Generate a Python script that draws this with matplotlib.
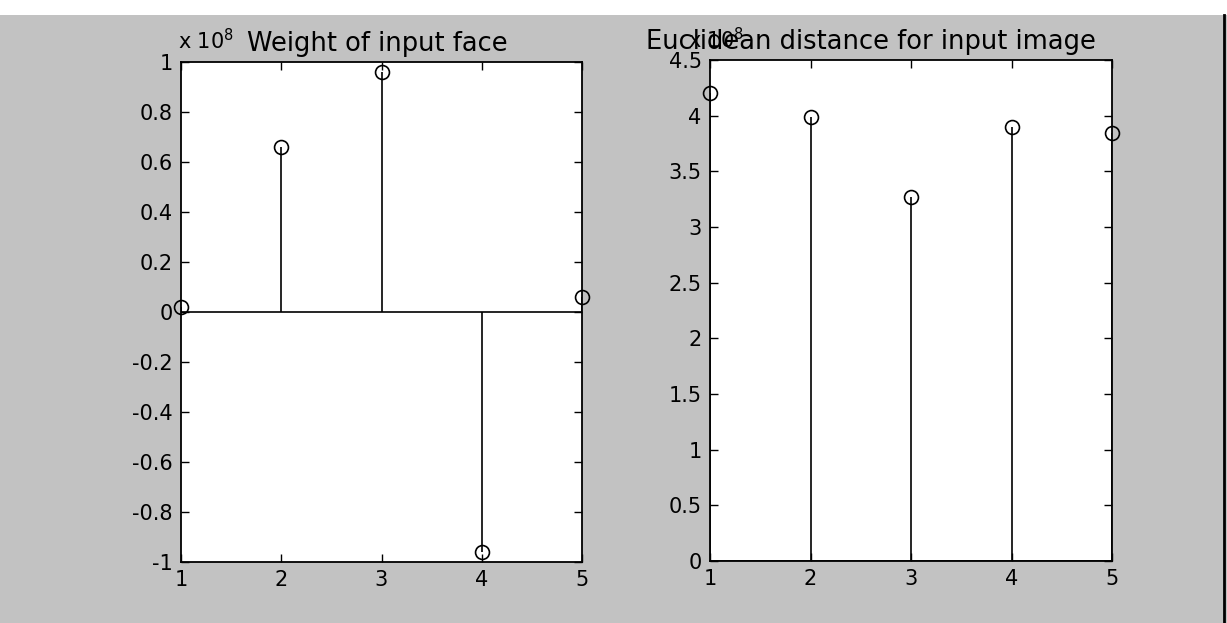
import matplotlib
matplotlib.use("Agg")
import matplotlib.pyplot as plt
from matplotlib.lines import Line2D
from matplotlib.patches import Rectangle

# values (both panels scaled by 10^8)
face_idx = [1, 2, 3, 4, 5]
face_weight = [0.02, 0.66, 0.96, -0.96, 0.06]
dist_idx = [1, 2, 3, 4, 5]
dist_value = [4.2, 3.99, 3.27, 3.9, 3.84]

left_title = "Weight of input face"
right_title = "Euclidean distance for input image"
left_yticks = [-1, -0.8, -0.6, -0.4, -0.2, 0, 0.2, 0.4, 0.6, 0.8, 1]
left_ylabels = ["-1", "-0.8", "-0.6", "-0.4", "-0.2", "0", "0.2", "0.4", "0.6", "0.8", "1"]
right_yticks = [0, 0.5, 1, 1.5, 2, 2.5, 3, 3.5, 4, 4.5]
right_ylabels = ["0", "0.5", "1", "1.5", "2", "2.5", "3", "3.5", "4", "4.5"]

plt.rcParams['font.family'] = ['DejaVu Sans']

W, H = 1227, 623
fig = plt.figure(figsize=(W / 100, H / 100), dpi=100, facecolor="#c2c2c2")

# white strip at top and dark line on the right edge like the scan
fig.patches.append(Rectangle((0, 1 - 15 / H), 1, 15 / H, transform=fig.transFigure,
                             facecolor="white", edgecolor="none", zorder=0))
fig.lines.append(Line2D([1 - 3 / W, 1 - 3 / W], [0, 1 - 15 / H], transform=fig.transFigure,
                        color="black", lw=2))


def box(x0, y0, x1, y1):
    return [x0 / W, 1 - y1 / H, (x1 - x0) / W, (y1 - y0) / H]


ax1 = fig.add_axes(box(181, 62, 582, 562))
ax2 = fig.add_axes(box(710, 60, 1112, 561))


def stem_panel(ax, x, y):
    m, s, b = ax.stem(x, y, linefmt="k-", markerfmt="ko", basefmt="k-")
    m.set_markerfacecolor("none")
    m.set_markersize(10)
    m.set_markeredgewidth(1.2)
    m.set_clip_on(False)
    s.set_linewidth(1.2)
    b.set_linewidth(1.2)
    ax.set_xlim(1, 5)
    ax.set_xticks([1, 2, 3, 4, 5])
    ax.tick_params(direction="in", top=True, right=True, length=6, width=1,
                   labelsize=15, pad=6)
    for sp in ax.spines.values():
        sp.set_linewidth(1.3)


stem_panel(ax1, face_idx, face_weight)
ax1.set_ylim(-1, 1)
ax1.set_yticks(left_yticks)
ax1.set_yticklabels(left_ylabels)
t1 = ax1.set_title(left_title, fontsize=18.5, pad=8)
t1.set_x(0.49)

stem_panel(ax2, dist_idx, dist_value)
ax2.set_ylim(0, 4.5)
ax2.set_yticks(right_yticks)
ax2.set_yticklabels(right_ylabels)
t2 = ax2.set_title(right_title, fontsize=18.5, pad=8)
t2.set_x(0.40)

# MATLAB style exponent labels (the right one sits under the title as in the scan)
fig.text(178 / W, 1 - 49 / H, r"x 10$^{8}$", fontsize=15, ha="left", va="baseline")
fig.text(688 / W, 1 - 48 / H, r"x 10$^{8}$", fontsize=15, ha="left", va="baseline")

fig.savefig("out.png", dpi=100, facecolor=fig.get_facecolor())
